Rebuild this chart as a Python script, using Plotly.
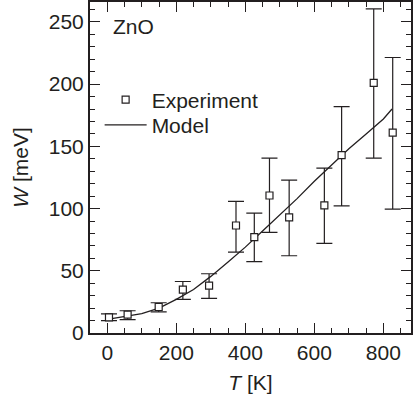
import plotly.graph_objects as go

# Experimental data
T_exp = [5, 59, 149, 219, 295, 373, 426, 470, 527, 629, 679, 772, 827]
W_exp = [12.5, 14.7, 20.9, 34.8, 38.0, 86.4, 77.0, 110.5, 92.9, 102.5, 143.0, 201.0, 161.0]
W_err_plus = [2.8, 3.2, 3.4, 6.6, 9.6, 19.3, 19.4, 30.1, 30.0, 30.0, 39.0, 59.5, 60.4]
W_err_minus = [2.6, 4.0, 4.0, 7.8, 10.2, 21.4, 19.7, 29.7, 30.8, 30.5, 40.8, 60.4, 61.4]

# Model curve
T_model = [0, 50, 100, 150, 200, 250, 300, 350, 400, 450, 500, 550, 600, 650, 700, 750, 800, 825]
W_model = [11, 13, 15.5, 20, 27, 35, 45.5, 57, 69, 82, 95, 108, 122, 135, 148, 160, 172, 180]

x_ticks = [0, 200, 400, 600, 800]
y_ticks = [0, 50, 100, 150, 200, 250]

ink = "#231f20"
FONT = "Liberation Sans, Arial, sans-serif"
FS = 21

fig = go.Figure()
fig.add_trace(go.Scatter(
    x=T_model, y=W_model, mode="lines", name="Model",
    line=dict(color=ink, width=1.3), legend="legend2",
))
fig.add_trace(go.Scatter(
    x=T_exp, y=W_exp, mode="markers", name="Experiment",
    marker=dict(symbol="square", size=7, color="white",
                line=dict(color=ink, width=1.2)),
    error_y=dict(type="data", array=W_err_plus, arrayminus=W_err_minus,
                 color=ink, thickness=1.2, width=8),
    legend="legend",
))

axis_common = dict(
    showline=True, linecolor=ink, linewidth=2, mirror="ticks",
    ticks="inside", ticklen=10, tickwidth=1.3, tickcolor=ink,
    showgrid=False, zeroline=False,
    tickfont=dict(family=FONT, size=FS, color=ink),
)

legend_common = dict(xanchor="left", yanchor="middle", bgcolor="rgba(0,0,0,0)",
                     font=dict(family=FONT, size=FS, color=ink), itemwidth=42)

fig.update_layout(
    width=413, height=401,
    margin=dict(l=90, r=0, t=2, b=68),
    paper_bgcolor="white", plot_bgcolor="white",
    font=dict(family=FONT, size=FS, color=ink),
    showlegend=True,
    legend=dict(x=0.03, y=0.704, **legend_common),
    legend2=dict(x=0.03, y=0.628, **legend_common),
    xaxis=dict(range=[-50, 880], tickvals=x_ticks,
               minor=dict(dtick=50, tick0=0, ticks="inside", ticklen=5, tickwidth=1.2, tickcolor=ink),
               title=dict(text="<i>T</i> [K]", font=dict(family=FONT, size=FS, color=ink), standoff=12),
               **axis_common),
    yaxis=dict(range=[0, 266], tickvals=y_ticks,
               minor=dict(dtick=10, tick0=0, ticks="inside", ticklen=5, tickwidth=1.2, tickcolor=ink),
               title=dict(text="<i>W</i> [meV]", font=dict(family=FONT, size=FS, color=ink), standoff=14),
               **axis_common),
    annotations=[dict(text="ZnO", xref="paper", yref="paper", x=0.064, y=0.925,
                      xanchor="left", yanchor="middle", showarrow=False,
                      font=dict(family=FONT, size=FS, color=ink))],
)

fig.write_html("out.html")
